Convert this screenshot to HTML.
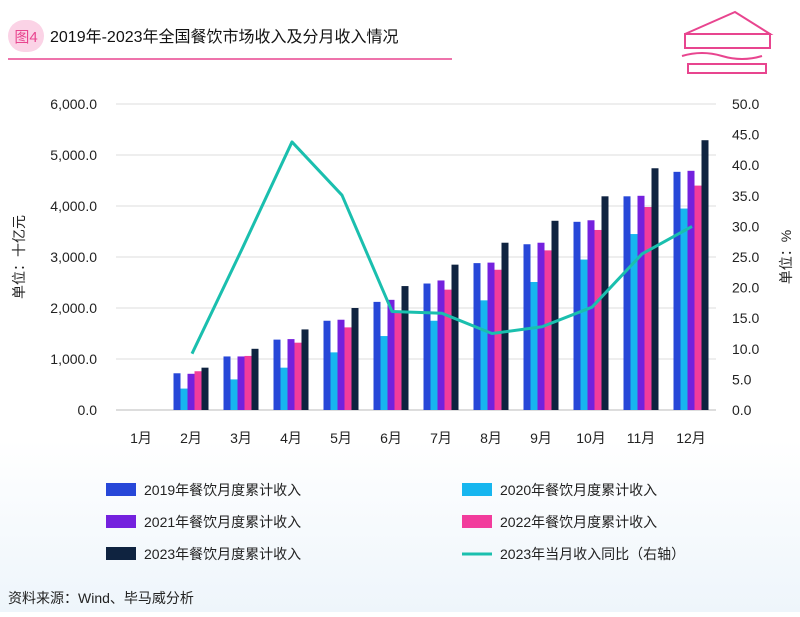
<!DOCTYPE html>
<html><head><meta charset="utf-8"><style>
body{margin:0;width:800px;height:612px;background:#fff;font-family:"Liberation Sans","Noto Sans CJK SC",sans-serif;overflow:hidden}
</style></head><body>
<svg width="800" height="612" style="font-family:'Liberation Sans','Noto Sans CJK SC',sans-serif">
<defs><linearGradient id="bg" x1="0" y1="0" x2="0" y2="1"><stop offset="0" stop-color="#fff"/><stop offset="1" stop-color="#eef5fb"/></linearGradient></defs>
<rect x="0" y="440" width="800" height="172" fill="url(#bg)"/>
<g>
<rect x="8" y="20" width="36" height="32" rx="16" fill="#fbd3e6"/>
<text x="26" y="42" font-size="15" fill="#e8458f" text-anchor="middle">图4</text>
<text x="50" y="42" font-size="16" fill="#111">2019年-2023年全国餐饮市场收入及分月收入情况</text>
<line x1="8" y1="59" x2="452" y2="59" stroke="#e8458f" stroke-width="1.5"/>
<g fill="none" stroke="#e8458f" stroke-width="2">
<path d="M685 34 L735 12 L770 34 Z"/><rect x="685" y="34" width="85" height="14"/>
<path d="M682 56 q20 -6 40 0 q20 6 40 0" /><rect x="688" y="64" width="78" height="9"/>
</g></g>
<g id="grid"></g>
<g id="bars"></g>
<g id="line"></g>
<g id="axes"></g>
<text transform="translate(24,257) rotate(-90)" font-size="14" text-anchor="middle" fill="#222">单位：十亿元</text>
<text transform="translate(791,257) rotate(-90)" font-size="14" text-anchor="middle" fill="#222">单位：%</text>
<g id="legend"></g>
<text x="8" y="603" font-size="14" fill="#222">资料来源：Wind、毕马威分析</text>
</svg>
<script>
const categories=["1月","2月","3月","4月","5月","6月","7月","8月","9月","10月","11月","12月"];
const s2019=[null,720,1050,1380,1750,2120,2480,2880,3250,3690,4190,4670];
const s2020=[null,420,600,830,1130,1450,1750,2150,2510,2950,3450,3950];
const s2021=[null,710,1050,1390,1770,2160,2540,2890,3280,3720,4200,4690];
const s2022=[null,760,1060,1320,1620,1950,2360,2750,3130,3530,3980,4400];
const s2023=[null,830,1200,1580,2000,2430,2850,3280,3710,4190,4740,5290];
const yoy2023=[null,9.2,26.3,43.8,35.1,16.1,15.8,12.5,13.6,16.8,25.5,30.0];
const leftTicks=["0.0","1,000.0","2,000.0","3,000.0","4,000.0","5,000.0","6,000.0"];
const rightTicks=["0.0","5.0","10.0","15.0","20.0","25.0","30.0","35.0","40.0","45.0","50.0"];
const seriesNames=["2019年餐饮月度累计收入","2020年餐饮月度累计收入","2021年餐饮月度累计收入","2022年餐饮月度累计收入","2023年餐饮月度累计收入","2023年当月收入同比（右轴）"];
const colors=["#2747d8","#17b6ef","#7421de","#f23c9c","#0f2340","#1abfae"];
const NS="http://www.w3.org/2000/svg";
const X0=116,X1=716,Y0=410,Y1=104;
const xC=i=>X0+(X1-X0)/12*(i+0.5);
const yL=v=>Y0-(v/6000)*(Y0-Y1);
const yR=v=>Y0-(v/50)*(Y0-Y1);
function mk(t,a,p){const e=document.createElementNS(NS,t);for(const k in a)e.setAttribute(k,a[k]);p.appendChild(e);return e;}
const grid=document.getElementById('grid'),axes=document.getElementById('axes'),bars=document.getElementById('bars');
leftTicks.forEach((t,i)=>{const y=yL(i*1000);
const l=mk('line',{x1:X0,x2:X1,y1:y,y2:y,stroke:i==0?'#bbb':'#ddd','stroke-width':1},grid);


const tx=mk('text',{x:97,y:y+5,'font-size':14,'text-anchor':'end',fill:'#222'},axes);tx.textContent=t;

});
rightTicks.forEach((t,i)=>{const y=yR(i*5);
const tx=mk('text',{x:732,y:y+5,'font-size':14,fill:'#222'},axes);tx.textContent=t;

});
categories.forEach((c,i)=>{const tx=mk('text',{x:xC(i),y:443,'font-size':14,'text-anchor':'middle',fill:'#222'},axes);tx.textContent=c;

});
const all=[s2019,s2020,s2021,s2022,s2023];const bw=7;
all.forEach((s,k)=>s.forEach((v,i)=>{if(v==null)return;
const x=xC(i)-bw*2.5+k*bw;const r=mk('rect',{x:x,y:yL(v),width:bw,height:Y0-yL(v),fill:colors[k]},bars);

}));
let pts=[];yoy2023.forEach((v,i)=>{if(v!=null)pts.push(xC(i)+1+','+yR(v));});
const pl=mk('polyline',{points:pts.join(' '),fill:'none',stroke:colors[5],'stroke-width':3,'stroke-linejoin':'round'},document.getElementById('line'));


const lg=document.getElementById('legend');
seriesNames.forEach((n,k)=>{const col=k%2,row=Math.floor(k/2);const x=col?462:106,y=490+row*32;
if(k<5){const r=mk('rect',{x:x,y:y-7,width:30,height:13,fill:colors[k]},lg);}
else{const l=mk('line',{x1:x,x2:x+30,y1:y,y2:y,stroke:colors[k],'stroke-width':3},lg);}
const t=mk('text',{x:x+38,y:y+5,'font-size':14,fill:'#222'},lg);t.textContent=n;

});
</script>
</body></html>
